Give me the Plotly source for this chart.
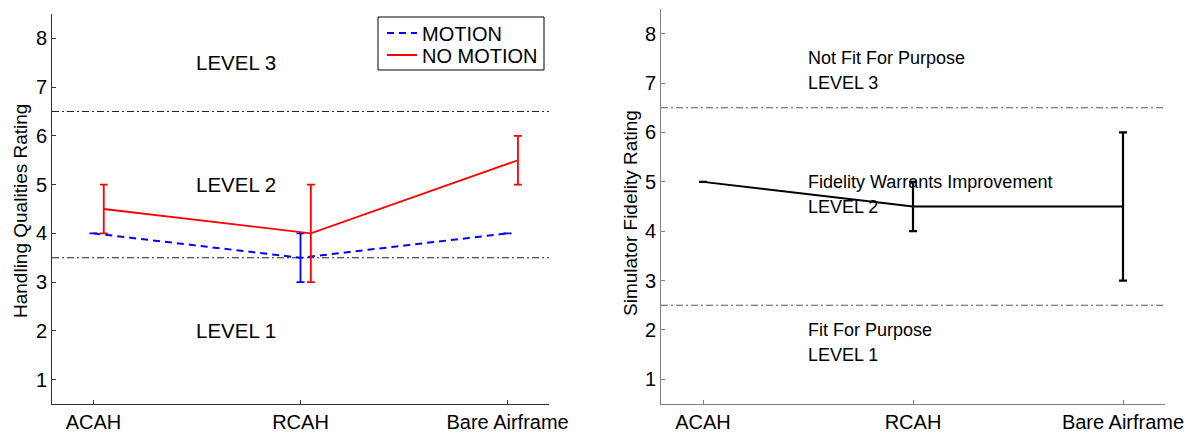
import plotly.graph_objects as go

# ---------------- data ----------------
categories = ["ACAH", "RCAH", "Bare Airframe"]
y_ticks = [1, 2, 3, 4, 5, 6, 7, 8]

# Left panel: Handling Qualities Rating
motion_mean = [4.0, 3.5, 4.0]
motion_low = [4.0, 3.0, 4.0]
motion_high = [4.0, 4.0, 4.0]

nomotion_mean = [4.5, 4.0, 5.5]
nomotion_low = [4.0, 3.0, 5.0]
nomotion_high = [5.0, 5.0, 6.0]

hqr_boundaries = [3.5, 6.5]
hqr_labels = ["LEVEL 1", "LEVEL 2", "LEVEL 3"]
hqr_label_y = [2.0, 5.0, 7.5]

# Right panel: Simulator Fidelity Rating
sfr_mean = [5.0, 4.5, 4.5]
sfr_low = [5.0, 4.0, 3.0]
sfr_high = [5.0, 5.0, 6.0]

sfr_boundaries = [2.5, 6.5]
sfr_titles = ["Fit For Purpose", "Fidelity Warrants Improvement", "Not Fit For Purpose"]
sfr_levels = ["LEVEL 1", "LEVEL 2", "LEVEL 3"]
sfr_title_y = [2.0, 5.0, 7.5]
sfr_level_y = [1.5, 4.5, 7.0]

# ---------------- figure ----------------
W, H = 1191, 433
FONT = "Liberation Sans, Arial, Helvetica, sans-serif"
xpos = [i + 1 for i in range(len(categories))]
nm_offset = 0.05


def px_x(p):
    return p / W


def px_y(p):
    return 1 - p / H


fig = go.Figure()

fig.add_trace(go.Scatter(
    x=xpos, y=motion_mean, mode="lines", name="MOTION", legend="legend",
    line=dict(color="#0000ff", width=2, dash="7px,5px"),
    error_y=dict(type="data", symmetric=False,
                 array=[h - m for h, m in zip(motion_high, motion_mean)],
                 arrayminus=[m - l for m, l in zip(motion_mean, motion_low)],
                 color="#0000ff", thickness=1.8, width=4),
    xaxis="x", yaxis="y"))

fig.add_trace(go.Scatter(
    x=[x + nm_offset for x in xpos], y=nomotion_mean, mode="lines", name="NO MOTION",
    legend="legend2",
    line=dict(color="#ff0000", width=1.8),
    error_y=dict(type="data", symmetric=False,
                 array=[h - m for h, m in zip(nomotion_high, nomotion_mean)],
                 arrayminus=[m - l for m, l in zip(nomotion_mean, nomotion_low)],
                 color="#ff0000", thickness=1.8, width=4),
    xaxis="x", yaxis="y"))

fig.add_trace(go.Scatter(
    x=xpos, y=sfr_mean, mode="lines", name="SFR", showlegend=False,
    line=dict(color="#000000", width=1.8),
    error_y=dict(type="data", symmetric=False,
                 array=[h - m for h, m in zip(sfr_high, sfr_mean)],
                 arrayminus=[m - l for m, l in zip(sfr_mean, sfr_low)],
                 color="#000000", thickness=2.2, width=4),
    xaxis="x2", yaxis="y2"))

# boundary lines
for b in hqr_boundaries:
    fig.add_shape(type="line", xref="x domain", yref="y", x0=0, x1=1, y0=b, y1=b,
                  line=dict(color="#222222", width=1, dash="7px,3px,2px,3px"), layer="below")
for b in sfr_boundaries:
    fig.add_shape(type="line", xref="x2 domain", yref="y2", x0=0, x1=1, y0=b, y1=b,
                  line=dict(color="#555555", width=1, dash="7px,3px,2px,3px"), layer="below")

# legend frame around the two legend entries
fig.add_shape(type="rect", xref="paper", yref="paper",
              x0=px_x(378), x1=px_x(544), y0=px_y(70), y1=px_y(17),
              line=dict(color="#000000", width=1), fillcolor="white", layer="below")

annotations = []
for t, y in zip(hqr_labels, hqr_label_y):
    annotations.append(dict(x=1.487, y=y, xref="x", yref="y", text=t, showarrow=False,
                            xanchor="left", yanchor="middle",
                            font=dict(family=FONT, size=20.5, color="#000")))
for t, y in zip(sfr_titles, sfr_title_y):
    annotations.append(dict(x=1.49, y=y, xref="x2", yref="y2", text=t, showarrow=False,
                            xanchor="left", yanchor="middle",
                            font=dict(family=FONT, size=18, color="#000")))
for t, y in zip(sfr_levels, sfr_level_y):
    annotations.append(dict(x=1.49, y=y, xref="x2", yref="y2", text=t, showarrow=False,
                            xanchor="left", yanchor="middle",
                            font=dict(family=FONT, size=18, color="#000")))
# axis titles
annotations.append(dict(x=px_x(20), y=px_y(211), xref="paper", yref="paper",
                        text="Handling Qualities Rating", textangle=-90, showarrow=False,
                        xanchor="center", yanchor="middle",
                        font=dict(family=FONT, size=19, color="#000")))
annotations.append(dict(x=px_x(630), y=px_y(213), xref="paper", yref="paper",
                        text="Simulator Fidelity Rating", textangle=-90, showarrow=False,
                        xanchor="center", yanchor="middle",
                        font=dict(family=FONT, size=19, color="#000")))

axis_common = dict(showgrid=False, zeroline=False, showline=True, ticks="inside",
                   ticklen=4, mirror=False, tickfont=dict(family=FONT, size=20, color="#000"))

legend_common = dict(xanchor="left", yanchor="middle", borderwidth=0,
                     bgcolor="rgba(0,0,0,0)",
                     font=dict(family=FONT, size=20, color="#000"), itemwidth=30)

fig.update_layout(
    width=W, height=H,
    margin=dict(l=0, r=0, t=0, b=0),
    paper_bgcolor="white", plot_bgcolor="white",
    font=dict(family=FONT, size=19, color="#000"),
    showlegend=True,
    legend=dict(x=px_x(382), y=px_y(33), **legend_common),
    legend2=dict(x=px_x(382), y=px_y(55), **legend_common),
    xaxis=dict(domain=[px_x(52), px_x(549)], range=[0.8, 3.2], tickmode="array",
               tickvals=xpos, ticktext=categories, linecolor="#333333", tickcolor="#333333",
               anchor="y", automargin=False, **axis_common),
    yaxis=dict(domain=[1 - 404 / H, 1 - 14 / H], range=[0.5, 8.5], tickmode="array",
               tickvals=y_ticks, linecolor="#333333", tickcolor="#333333",
               anchor="x", automargin=False, **axis_common),
    xaxis2=dict(domain=[px_x(661), px_x(1165)], range=[0.8, 3.2], tickmode="array",
                tickvals=xpos, ticktext=categories, linecolor="#808080", tickcolor="#808080",
                anchor="y2", automargin=False, **axis_common),
    yaxis2=dict(domain=[1 - 404 / H, 1 - 9 / H], range=[0.5, 8.5], tickmode="array",
                tickvals=y_ticks, linecolor="#808080", tickcolor="#808080",
                anchor="x2", automargin=False, **axis_common),
    annotations=annotations,
)

fig.write_html("out.html", config={"displayModeBar": False},
               post_script="document.body.style.margin='0';document.body.style.overflow='hidden';")
